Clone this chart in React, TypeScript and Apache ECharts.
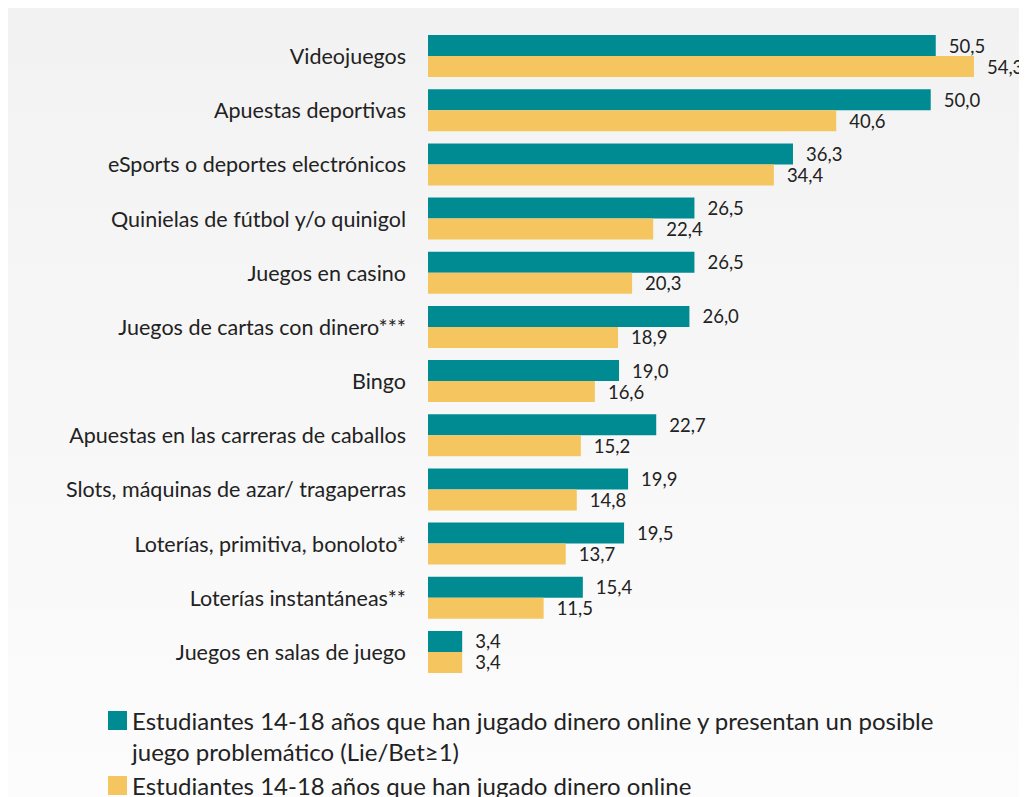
import React, { useEffect, useRef } from "react";
import * as echarts from "echarts";

const categories = [
  "Videojuegos",
  "Apuestas deportivas",
  "eSports o deportes electrónicos",
  "Quinielas de fútbol y/o quinigol",
  "Juegos en casino",
  "Juegos de cartas con dinero***",
  "Bingo",
  "Apuestas en las carreras de caballos",
  "Slots, máquinas de azar/ tragaperras",
  "Loterías, primitiva, bonoloto*",
  "Loterías instantáneas**",
  "Juegos en salas de juego",
];

const problematicValues = [50.5, 50.0, 36.3, 26.5, 26.5, 26.0, 19.0, 22.7, 19.9, 19.5, 15.4, 3.4];
const onlineValues = [54.3, 40.6, 34.4, 22.4, 20.3, 18.9, 16.6, 15.2, 14.8, 13.7, 11.5, 3.4];

const legendLine1 = "Estudiantes 14-18 años que han jugado dinero online y presentan un posible";
const legendLine2 = "juego problemático (Lie/Bet≥1)";
const seriesNames = [
  legendLine1 + " " + legendLine2,
  "Estudiantes 14-18 años que han jugado dinero online",
];

const TEAL = "#008b93";
const YELLOW = "#f5c660";
const FONT = "Lato, 'Open Sans', sans-serif";
const TEXT = "#222";

const fmt = (v: number) => v.toFixed(1).replace(".", ",");

export default function App() {
  const ref = useRef<HTMLDivElement>(null);

  useEffect(() => {
    if (!ref.current) return;
    const chart = echarts.init(ref.current, undefined, { renderer: "svg" });
    const labelCfg = {
      show: true,
      position: "right" as const,
      distance: 13,
      fontFamily: FONT,
      fontSize: 18.5,
      color: TEXT,
      formatter: (p: any) => fmt(p.value),
    };
    const legendText = {
      fontFamily: FONT,
      fontSize: 24,
      lineHeight: 31,
      color: TEXT,
    };
    chart.setOption({
      animation: false,
      backgroundColor: {
        type: "linear",
        x: 0,
        y: 0,
        x2: 0,
        y2: 1,
        colorStops: [
          { offset: 0, color: "#f2f2f2" },
          { offset: 1, color: "#fcfcfc" },
        ],
      },
      textStyle: { fontFamily: FONT },
      grid: { left: 420, right: 46, top: 21, bottom: 118, containLabel: false },
      xAxis: {
        type: "value",
        min: 0,
        max: 55,
        show: false,
        splitLine: { show: false },
      },
      yAxis: {
        type: "category",
        data: categories,
        inverse: true,
        axisLine: { show: false },
        axisTick: { show: false },
        axisLabel: {
          margin: 22,
          fontFamily: FONT,
          fontSize: 21.5,
          color: TEXT,
        },
      },
      legend: [
        {
          left: 100,
          top: 697,
          orient: "vertical",
          padding: 0,
          itemWidth: 19,
          itemHeight: 19,
          icon: "rect",
          data: [seriesNames[0]],
          formatter: () => legendLine1,
          textStyle: legendText,
        },
        {
          left: 100,
          top: 762,
          orient: "vertical",
          padding: 0,
          itemWidth: 19,
          itemHeight: 19,
          icon: "rect",
          data: [seriesNames[1]],
          textStyle: legendText,
        },
      ],
      graphic: [
        {
          type: "text",
          left: 124,
          top: 728,
          style: {
            text: legendLine2,
            fontFamily: FONT,
            fontSize: 24,
            lineHeight: 31,
            fill: TEXT,
          },
        },
      ],
      series: [
        {
          name: seriesNames[0],
          type: "bar",
          data: problematicValues,
          barWidth: 21,
          barGap: "0%",
          itemStyle: { color: TEAL },
          label: labelCfg,
        },
        {
          name: seriesNames[1],
          type: "bar",
          data: onlineValues,
          barWidth: 21,
          barGap: "0%",
          itemStyle: { color: YELLOW },
          label: labelCfg,
        },
      ],
    });
    return () => chart.dispose();
  }, []);

  return <div ref={ref} style={{ width: 1019, height: 789 }} />;
}
